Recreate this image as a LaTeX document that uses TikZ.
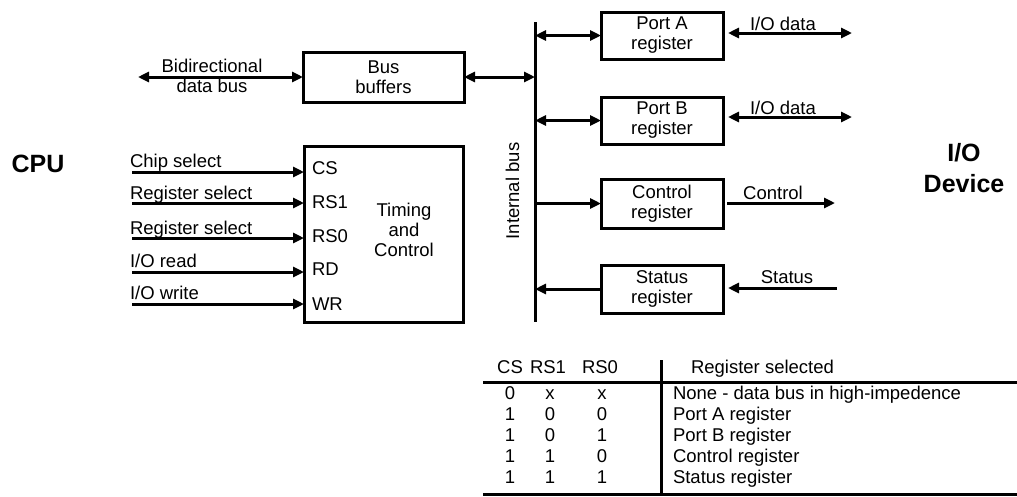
\documentclass[tikz,border=0pt]{standalone}
\usepackage{fontspec}
\setmainfont{Liberation Sans}
\usetikzlibrary{arrows.meta}
\begin{document}
\begin{tikzpicture}[x=1pt,y=-1pt,
  every node/.style={font=\fontsize{18.5}{20}\selectfont, inner sep=0pt, outer sep=0pt},
  box/.style={draw, line width=3pt, align=center},
  conn/.style={line width=3pt, -{Triangle[length=11pt,width=10pt]}},
  biconn/.style={line width=3pt, {Triangle[length=11pt,width=10pt]}-{Triangle[length=11pt,width=10pt]}},
  rule/.style={line width=3pt},
  big/.style={font=\bfseries\fontsize{25}{31}\selectfont, align=center},
  lbl/.style={anchor=base west},
  clbl/.style={anchor=base}]
\useasboundingbox (0,0) rectangle (1017,496);

% side labels
\node[big] (cpu) at (38,164) {CPU};
\node[big] (iod) at (964,168) {I/O\\Device};

% boxes
\node[box, minimum width=161, minimum height=50] (bb) at (383.5,77) {Bus\\buffers};
\node[box, minimum width=159, minimum height=176] (tc) at (383.5,234) {};
\node[align=center] (tctext) at (404,230) {Timing\\and\\Control};
\node[box, minimum width=122, minimum height=47] (pa) at (662,35.5) {Port A\\register};
\node[box, minimum width=122, minimum height=47] (pb) at (662,120.5) {Port B\\register};
\node[box, minimum width=122, minimum height=49] (cr) at (662,203.5) {Control\\register};
\node[box, minimum width=122, minimum height=48] (sr) at (662,289) {Status\\register};

% internal bus
\coordinate (bt) at (535,22);
\coordinate (bbot) at (535,322);
\draw[rule] (bt) -- (bbot);
\node[rotate=90, anchor=base] (ibl) at (519,191) {Internal bus};

% bidirectional data bus
\coordinate (dbl) at (138,77);
\draw[biconn] (dbl) -- (bb.west);
\node[align=center] (dblbl) at (212,76) {Bidirectional\\data bus};
\draw[biconn] (bb.east) -- (bb.east -| bt);

% bus to registers
\draw[biconn] (pa.west -| bt) -- (pa.west);
\draw[biconn] (pb.west -| bt) -- (pb.west);
\draw[conn] (cr.west -| bt) -- (cr.west);
\draw[conn] (sr.west) -- (sr.west -| bt);

% right side signals
\coordinate (ioa1) at (728,33); \coordinate (ioa2) at (852,33);
\coordinate (iob1) at (728,117); \coordinate (iob2) at (852,117);
\coordinate (ctl1) at (727,203); \coordinate (ctl2) at (835,203);
\coordinate (st1) at (837,288); \coordinate (st2) at (728,288);
\draw[biconn] (ioa1) -- (ioa2);
\draw[biconn] (iob1) -- (iob2);
\draw[conn] (ctl1) -- (ctl2);
\draw[conn] (st1) -- (st2);
\node[clbl] (ioal) at (783,30) {I/O data};
\node[clbl] (iobl) at (783,114) {I/O data};
\node[clbl] (ctll) at (773,199) {Control};
\node[clbl] (stl) at (787,283) {Status};

% control inputs
\coordinate (in1) at (132,172);
\coordinate (in2) at (132,203);
\coordinate (in3) at (132,238);
\coordinate (in4) at (132,272);
\coordinate (in5) at (132,304);
\draw[conn] (in1) -- (in1 -| tc.west);
\draw[conn] (in2) -- (in2 -| tc.west);
\draw[conn] (in3) -- (in3 -| tc.west);
\draw[conn] (in4) -- (in4 -| tc.west);
\draw[conn] (in5) -- (in5 -| tc.west);
\node[lbl] (l1) at (130,167) {Chip select};
\node[lbl] (l2) at (130,199) {Register select};
\node[lbl] (l3) at (130,234) {Register select};
\node[lbl] (l4) at (130,267) {I/O read};
\node[lbl] (l5) at (130,299) {I/O write};
\node[anchor=west] (p1) at (312,168) {CS};
\node[anchor=west] (p2) at (312,202) {RS1};
\node[anchor=west] (p3) at (312,236) {RS0};
\node[anchor=west] (p4) at (312,269) {RD};
\node[anchor=west] (p5) at (312,304) {WR};

% table
\coordinate (tl1) at (483,382); \coordinate (tr1) at (1017,382);
\coordinate (tl2) at (483,494.5); \coordinate (tr2) at (1017,494.5);
\coordinate (vt) at (661,360); \coordinate (vb) at (661,494.5);
\draw[rule] (tl1) -- (tr1);
\draw[rule] (tl2) -- (tr2);
\draw[rule] (vt) -- (vb);
\node[clbl] (h1) at (510,373.5) {CS};
\node[clbl] (h2) at (548,373.5) {RS1};
\node[clbl] (h3) at (600,373.5) {RS0};
\node[lbl] (h4) at (691,373.5) {Register selected};
\foreach \r/\a/\b/\c/\t in {0/0/x/x/{None - data bus in high-impedence},
                            1/1/0/0/{Port A register},
                            2/1/0/1/{Port B register},
                            3/1/1/0/{Control register},
                            4/1/1/1/{Status register}}{
  \node[clbl] (ra\r) at (510,399.5+21*\r) {\a};
  \node[clbl] (rb\r) at (550,399.5+21*\r) {\b};
  \node[clbl] (rc\r) at (602,399.5+21*\r) {\c};
  \node[lbl] (rt\r) at (673,399.5+21*\r) {\t};
}
\end{tikzpicture}
\end{document}
